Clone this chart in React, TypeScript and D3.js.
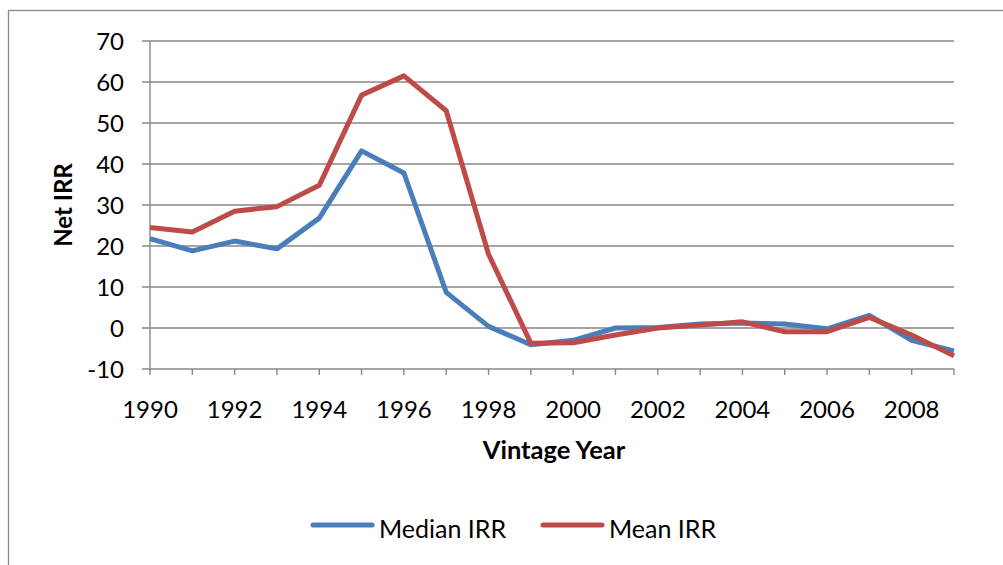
import React from "react";
import * as d3 from "d3";

const years = d3.range(1990, 2010);
const medianIRR = [21.8, 18.8, 21.2, 19.3, 26.8, 43.2, 37.8, 8.7, 0.4, -4.1, -3.0, 0.0, 0.1, 1.0, 1.2, 1.0, -0.2, 3.1, -3.0, -5.6];
const meanIRR = [24.5, 23.4, 28.5, 29.6, 34.8, 56.8, 61.5, 53.0, 18.0, -3.7, -3.6, -1.7, 0.0, 0.7, 1.5, -0.9, -0.9, 2.6, -1.7, -6.8];
const yTicks = [-10, 0, 10, 20, 30, 40, 50, 60, 70];
const xLabels = [1990, 1992, 1994, 1996, 1998, 2000, 2002, 2004, 2006, 2008];
const seriesNames = ["Median IRR", "Mean IRR"];
const colors = ["#4A7EBB", "#BE4B48"];

export default function App() {
  const left = 150, right = 954, top = 41, bottom = 369;
  const x = d3.scaleLinear().domain([1990, 2009]).range([left, right]);
  const y = d3.scaleLinear().domain([-10, 70]).range([bottom, top]);
  const line = d3.line<number>().x((_, i) => x(years[i])).y((d) => y(d));
  const font = "Lato, 'Open Sans', sans-serif";
  const grid = "#878787";
  const series = [medianIRR, meanIRR];
  return (
    <svg width={1003} height={565} style={{ position: "absolute", left: 0, top: 0, background: "#fff" }} fontFamily={font}>
      <rect x={8.5} y={10.5} width={1000} height={560} fill="#fff" stroke="#8a8a8a" strokeWidth={1.3} />
      {yTicks.map((t) => (
        <g key={t}>
          <line x1={left - 8} x2={right} y1={y(t)} y2={y(t)} stroke={grid} strokeWidth={1.4} />
          <text x={124} y={y(t)} dy="0.36em" textAnchor="end" fontSize={24} fill="#000">{t}</text>
        </g>
      ))}
      <line x1={left} x2={left} y1={top} y2={bottom + 1} stroke={grid} strokeWidth={1.4} />
      {years.map((yr) => (
        <line key={yr} x1={x(yr)} x2={x(yr)} y1={bottom} y2={bottom + 6} stroke={grid} strokeWidth={1.4} />
      ))}
      {xLabels.map((yr) => (
        <text key={yr} x={x(yr)} y={418} textAnchor="middle" fontSize={24} fill="#000">{yr}</text>
      ))}
      {series.map((s, i) => (
        <path key={i} d={line(s) || ""} fill="none" stroke={colors[i]} strokeWidth={5} strokeLinejoin="round" />
      ))}
      <text x={554} y={459} textAnchor="middle" fontSize={25.5} fontWeight="bold" fill="#000">Vintage Year</text>
      <text transform={`translate(72, 205) rotate(-90)`} textAnchor="middle" fontSize={24} fontWeight="bold" fill="#000">Net IRR</text>
      {seriesNames.map((n, i) => {
        const lx = i === 0 ? 313 : 543;
        return (
          <g key={n}>
            <line x1={lx} x2={lx + 59} y1={525} y2={525} stroke={colors[i]} strokeWidth={5} strokeLinecap="round" />
            <text x={lx + 66} y={538} fontSize={25} fill="#000">{n}</text>
          </g>
        );
      })}
    </svg>
  );
}
